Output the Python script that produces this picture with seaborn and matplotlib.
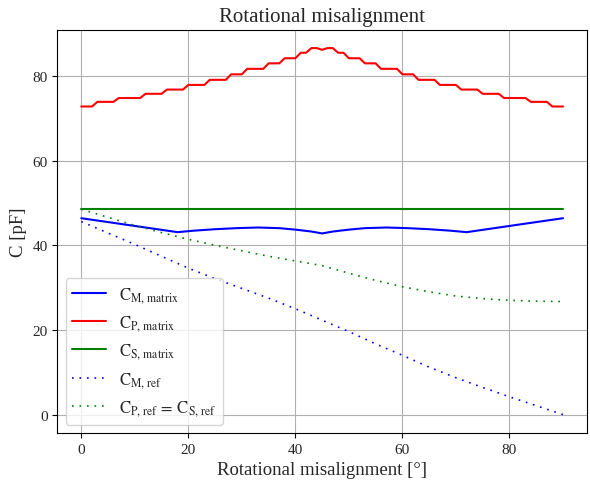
import numpy as np
import pandas as pd
import matplotlib
matplotlib.use('Agg')
import matplotlib.pyplot as plt
import seaborn as sns

# rotation angle [deg] for the matrix model (1 deg steps)
angle_deg = np.arange(0, 91)

# C_P, matrix (stepped curve)
cp_matrix = [
    72.8, 72.8, 72.8, 73.9, 73.9, 73.9, 73.9, 74.8, 74.8, 74.8,  # 0-9
    74.8, 74.8, 75.8, 75.8, 75.8, 75.8, 76.8, 76.8, 76.8, 76.8,  # 10-19
    77.9, 77.9, 77.9, 77.9, 79.1, 79.1, 79.1, 79.1, 80.4, 80.4,  # 20-29
    80.4, 81.7, 81.7, 81.7, 81.7, 83.0, 83.0, 83.0, 84.2, 84.2,  # 30-39
    84.2, 85.5, 85.5, 86.6, 86.6, 86.2, 86.6, 86.6, 85.5, 85.5,  # 40-49
    84.2, 84.2, 84.2, 83.0, 83.0, 83.0, 81.7, 81.7, 81.7, 81.7,  # 50-59
    80.4, 80.4, 80.4, 79.1, 79.1, 79.1, 79.1, 77.9, 77.9, 77.9,  # 60-69
    77.9, 76.8, 76.8, 76.8, 76.8, 75.8, 75.8, 75.8, 75.8, 74.8,  # 70-79
    74.8, 74.8, 74.8, 74.8, 73.9, 73.9, 73.9, 73.9, 72.8, 72.8,  # 80-89
    72.8]                                                        # 90

# C_M, matrix
cm_angle = [0, 9, 18, 21, 25, 29, 33, 37, 40, 43, 45, 47, 50, 53, 57, 61, 65, 69, 72, 81, 90]
cm_matrix = [46.4, 44.75, 43.1, 43.45, 43.8, 44.05, 44.2, 44.05, 43.7, 43.25, 42.8,
             43.25, 43.7, 44.05, 44.2, 44.05, 43.8, 43.45, 43.1, 44.75, 46.4]

# C_S, matrix (constant)
cs_angle = [0, 90]
cs_matrix = [48.6, 48.6]

# reference curves (5 deg steps)
ref_angle = [0, 5, 10, 15, 20, 25, 30, 35, 40, 45, 50, 55, 60, 65, 70, 75, 80, 85, 90]
cm_ref = [45.6, 42.9, 40.2, 37.4, 34.6, 32.1, 29.8, 27.5, 25.0, 22.3,
          19.6, 16.7, 14.0, 11.2, 8.7, 6.4, 4.2, 2.1, 0.0]
cp_ref = [48.5, 46.6, 44.7, 43.0, 41.4, 40.0, 38.7, 37.4, 36.3, 35.2,
          33.4, 31.7, 30.2, 29.0, 28.0, 27.4, 27.0, 26.8, 26.7]

sns.set_style('ticks')
plt.rcParams['font.family'] = ['Liberation Serif', 'DejaVu Serif']
plt.rcParams['mathtext.fontset'] = 'stix'

fig, ax = plt.subplots(figsize=(5.9, 4.81), dpi=100)
fig.subplots_adjust(left=0.097, right=0.995, top=0.936, bottom=0.098)

dot = (0, (1, 3.5))
sns.lineplot(x=cm_angle, y=cm_matrix, color='blue', lw=1.5, ax=ax,
             label=r'$\mathrm{C}_{\mathrm{M,\,matrix}}$')
sns.lineplot(x=angle_deg, y=cp_matrix, color='red', lw=1.5, ax=ax,
             label=r'$\mathrm{C}_{\mathrm{P,\,matrix}}$')
sns.lineplot(x=cs_angle, y=cs_matrix, color='green', lw=1.5, ax=ax,
             label=r'$\mathrm{C}_{\mathrm{S,\,matrix}}$')
sns.lineplot(x=ref_angle, y=cm_ref, color='blue', lw=1.2, linestyle=dot, ax=ax,
             label=r'$\mathrm{C}_{\mathrm{M,\,ref}}$')
sns.lineplot(x=ref_angle, y=cp_ref, color='green', lw=1.2, linestyle=dot, ax=ax,
             label=r'$\mathrm{C}_{\mathrm{P,\,ref}}\,=\,\mathrm{C}_{\mathrm{S,\,ref}}$')

ax.grid(True, color='#b0b0b0', lw=0.8)
for s in ax.spines.values():
    s.set_visible(True)
    s.set_color('black')
ax.set_xticks([0, 20, 40, 60, 80])
ax.set_yticks([0, 20, 40, 60, 80])
ax.tick_params(labelsize=11, direction='out', length=3.5, color='black')
ax.set_title('Rotational misalignment', fontsize=15)
ax.set_xlabel('Rotational misalignment [°]', fontsize=13.5)
ax.set_ylabel('C [pF]', fontsize=13.5)
ax.legend(loc='lower left', fontsize=12, frameon=True)

fig.savefig('out.png', dpi=100)
